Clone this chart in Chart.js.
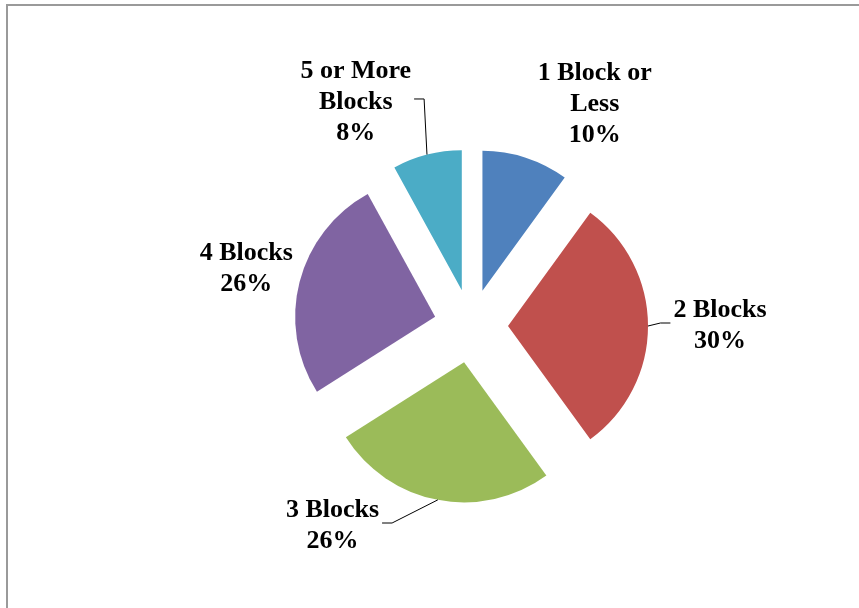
<!DOCTYPE html>
<html>
<head>
<meta charset="utf-8">
<script src="https://cdn.jsdelivr.net/npm/chart.js@4"></script>
<style>
  html, body { margin: 0; padding: 0; background: #fff; overflow: hidden; }
  #wrap { position: relative; width: 859px; height: 608px; }
  #frame { position: absolute; left: 6px; top: 4px; width: 900px; height: 700px;
           border-top: 2px solid #9a9a9a; border-left: 2px solid #9a9a9a; }
</style>
</head>
<body>
<div id="wrap">
  <div id="frame"></div>
  <canvas id="chart"></canvas>
</div>
<script>
// chart data
const categories = ["1 Block or Less", "2 Blocks", "3 Blocks", "4 Blocks", "5 or More Blocks"];
const shares = [10, 30, 26, 26, 8];
const percentLabels = ["10%", "30%", "26%", "26%", "8%"];
// how each label is wrapped on the picture
const labelLines = [["1 Block or", "Less"], ["2 Blocks"], ["3 Blocks"], ["4 Blocks"], ["5 or More", "Blocks"]];

const colors = ["#4F81BD", "#C0504D", "#9BBB59", "#8064A2", "#4BACC6"];

// label placement: angle shift from slice middle (deg), distance from slice tip, leader line?
const labelShift = [13, 0, 28, 0, -15];
const labelDist = [218, 212, 210, 195, 216];
const labelLeader = [false, true, true, false, true];

const explode = 37;
const FONT = "bold 26px 'Liberation Serif', 'Times New Roman', serif";
const LINE_H = 31;

const explodePlugin = {
  id: "explode",
  afterDatasetUpdate(chart, args) {
    args.meta.data.forEach(arc => {
      const mid = (arc.startAngle + arc.endAngle) / 2;
      arc.x += Math.cos(mid) * explode;
      arc.y += Math.sin(mid) * explode;
    });
  }
};

const labelPlugin = {
  id: "sliceLabels",
  afterDraw(chart) {
    const ctx = chart.ctx;
    const arcs = chart.getDatasetMeta(0).data;
    ctx.save();
    ctx.font = FONT;
    ctx.fillStyle = "#000";
    ctx.textAlign = "center";
    ctx.textBaseline = "middle";
    arcs.forEach((arc, i) => {
      const mid = (arc.startAngle + arc.endAngle) / 2;
      const a = mid + labelShift[i] * Math.PI / 180;
      const cx = arc.x + Math.cos(a) * labelDist[i];
      const cy = arc.y + Math.sin(a) * labelDist[i];
      const lines = labelLines[i].concat([percentLabels[i]]);
      const top = cy - (lines.length - 1) * LINE_H / 2;
      let w = 0;
      lines.forEach((t, k) => {
        w = Math.max(w, ctx.measureText(t).width);
        ctx.fillText(t, cx, top + k * LINE_H);
      });
      if (labelLeader[i]) {
        const r = arc.outerRadius;
        const px = arc.x + Math.cos(mid) * r;
        const py = arc.y + Math.sin(mid) * r;
        const right = px > cx;
        const endX = right ? cx + w / 2 + 3 : cx - w / 2 - 3;
        const elbowX = right ? endX + 10 : endX - 10;
        const ly = cy - 3;
        ctx.beginPath();
        ctx.strokeStyle = "#000";
        ctx.lineWidth = 1;
        ctx.moveTo(px, py);
        ctx.lineTo(elbowX, ly);
        ctx.lineTo(endX, ly);
        ctx.stroke();
      }
    });
    ctx.restore();
  }
};

new Chart(document.getElementById("chart"), {
  type: "pie",
  data: {
    labels: categories,
    datasets: [{
      data: shares,
      backgroundColor: colors,
      borderWidth: 0
    }]
  },
  options: {
    responsive: true,
    maintainAspectRatio: false,
    animation: false,
    events: [],
    radius: 140,
    layout: { padding: { left: 93, right: 10, top: 54, bottom: 10 } },
    plugins: {
      legend: { display: false },
      tooltip: { enabled: false }
    }
  },
  plugins: [explodePlugin, labelPlugin]
});
</script>
</body>
</html>
